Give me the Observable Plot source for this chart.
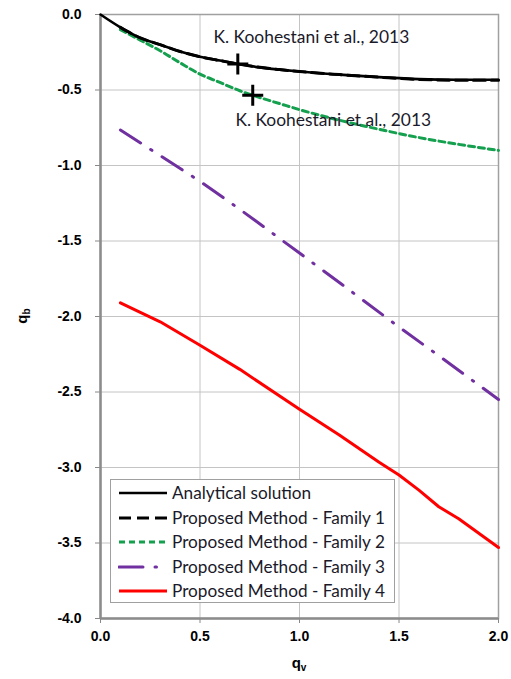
<!DOCTYPE html>
<html>
<head>
<meta charset="utf-8">
<script src="https://cdn.jsdelivr.net/npm/d3@7"></script>
<script src="https://cdn.jsdelivr.net/npm/@observablehq/plot@0.6"></script>
<style>
  html, body { margin: 0; padding: 0; background: #fff; }
  #wrap { position: relative; width: 511px; height: 679px; }
  #legend {
    position: absolute; left: 110px; top: 479px; width: 285px; height: 124px;
    background: #fff; border: 1.5px solid #a0a0a0; box-sizing: border-box;
    font-family: Lato, "Open Sans", sans-serif; font-size: 17.2px; color: #1a1a2a;
    padding-top: 1px;
  }
  .row { display: flex; align-items: center; height: 24.5px; line-height: 24.5px; white-space: nowrap; }
  .row svg { margin-left: 7px; margin-right: 4px; flex: none; }
</style>
</head>
<body>
<div id="wrap"></div>
<script>
// ---- data ----
const seriesNames = ["Analytical solution", "Proposed Method - Family 1", "Proposed Method - Family 2", "Proposed Method - Family 3", "Proposed Method - Family 4"];

const analyticalX = [0, 0.1, 0.2, 0.3, 0.4, 0.5, 0.6, 0.7, 0.8, 0.9, 1.0, 1.2, 1.4, 1.6, 1.8, 2.0];
const analyticalY = [0, -0.085, -0.155, -0.20, -0.245, -0.28, -0.305, -0.33, -0.35, -0.365, -0.378, -0.398, -0.415, -0.428, -0.432, -0.432];

const family1X = [0.1, 0.2, 0.3, 0.4, 0.5, 0.6, 0.7, 0.8, 0.9, 1.0, 1.2, 1.4, 1.6, 1.8, 2.0];
const family1Y = [-0.085, -0.155, -0.20, -0.245, -0.28, -0.305, -0.33, -0.35, -0.365, -0.378, -0.398, -0.415, -0.43, -0.435, -0.435];

const family2X = [0.1, 0.2, 0.3, 0.4, 0.5, 0.6, 0.7, 0.8, 0.9, 1.0, 1.2, 1.4, 1.6, 1.8, 2.0];
const family2Y = [-0.10, -0.17, -0.24, -0.32, -0.395, -0.45, -0.505, -0.55, -0.59, -0.63, -0.70, -0.76, -0.815, -0.86, -0.90];

const family3X = [0.1, 0.3, 0.5, 0.7, 1.0, 1.2, 1.5, 1.7, 2.0];
const family3Y = [-0.765, -0.935, -1.105, -1.29, -1.58, -1.775, -2.07, -2.26, -2.55];

const family4X = [0.1, 0.3, 0.5, 0.7, 1.0, 1.2, 1.4, 1.5, 1.6, 1.7, 1.8, 2.0];
const family4Y = [-1.91, -2.035, -2.19, -2.35, -2.615, -2.785, -2.965, -3.05, -3.15, -3.26, -3.34, -3.53];

const refX = [0.69, 0.765];
const refY = [-0.327, -0.535];
const refLabel = "K. Koohestani et al., 2013";
const refLabelX = [0.568, 0.678];
const refLabelY = [-0.152, -0.70];

const xTicks = [0, 0.5, 1.0, 1.5, 2.0];
const yTicks = [0, -0.5, -1.0, -1.5, -2.0, -2.5, -3.0, -3.5, -4.0];

// ---- build tables ----
const toRows = (xs, ys) => xs.map((x, i) => ({x, y: ys[i]}));
const analytical = toRows(analyticalX, analyticalY);
const fam1 = toRows(family1X, family1Y);
const fam2 = toRows(family2X, family2Y);
const fam3 = toRows(family3X, family3Y);
const fam4 = toRows(family4X, family4Y);
const refs = toRows(refX, refY);
const refLabels = toRows(refLabelX, refLabelY);

const plusSymbol = {
  draw(ctx, size) {
    const r = Math.sqrt(size / Math.PI);
    ctx.moveTo(-r, 0); ctx.lineTo(r, 0);
    ctx.moveTo(0, -r); ctx.lineTo(0, r);
  }
};

const styles = {
  analytical: {stroke: "#000", strokeWidth: 2.6},
  fam1: {stroke: "#000", strokeWidth: 3, strokeDasharray: "12,6"},
  fam2: {stroke: "#14a04e", strokeWidth: 3, strokeDasharray: "6,4"},
  fam3: {stroke: "#7030a0", strokeWidth: 3, strokeDasharray: "24,12,1.5,12", strokeLinecap: "round"},
  fam4: {stroke: "#ff0000", strokeWidth: 3}
};

const chart = Plot.plot({
  width: 511,
  height: 679,
  marginLeft: 100,
  marginRight: 13,
  marginTop: 14,
  marginBottom: 61,
  style: {fontFamily: "'Liberation Sans', Arial, sans-serif", fontSize: "14px", fontWeight: "bold", color: "#000", background: "#fff"},
  x: {domain: [0, 2]},
  y: {domain: [-4, 0]},
  marks: [
    Plot.gridX(xTicks, {stroke: "#c4c4c4", strokeOpacity: 1, strokeWidth: 1}),
    Plot.gridY(yTicks, {stroke: "#c4c4c4", strokeOpacity: 1, strokeWidth: 1}),
    Plot.frame({stroke: "#a0a0a0", strokeWidth: 1.5}),
    Plot.axisX(xTicks, {tickSize: 5, tickPadding: 8, tickFormat: d => d.toFixed(1), label: null, stroke: "#888"}),
    Plot.axisY(yTicks, {tickSize: 5, tickPadding: 14, tickFormat: d => d.toFixed(1), label: null, stroke: "#888"}),
    Plot.ruleX([0], {stroke: "#8c8c8c", strokeWidth: 2.5}),
    Plot.ruleY([-4], {stroke: "#8c8c8c", strokeWidth: 2.5}),
    Plot.line(fam4, {x: "x", y: "y", ...styles.fam4}),
    Plot.line(fam3, {x: "x", y: "y", ...styles.fam3}),
    Plot.line(fam2, {x: "x", y: "y", ...styles.fam2, curve: "monotone-x"}),
    Plot.line(analytical, {x: "x", y: "y", ...styles.analytical, curve: "monotone-x"}),
    Plot.line(fam1, {x: "x", y: "y", ...styles.fam1, curve: "monotone-x"}),
    Plot.dot(refs, {x: "x", y: "y", symbol: plusSymbol, r: 10.5, stroke: "#000", strokeWidth: 3, fill: "none"}),
    Plot.text(refLabels, {x: "x", y: "y", text: () => refLabel, textAnchor: "start", fontFamily: "Lato, 'Open Sans', sans-serif", fontSize: 17.4, fontWeight: "normal", fill: "#1a1a2a"})
  ]
});

// axis tick marks gray, labels black
d3.select(chart).selectAll('[aria-label="x-axis tick"] path, [aria-label="y-axis tick"] path').attr("stroke", "#888");
d3.select(chart).selectAll('[aria-label="x-axis tick label"], [aria-label="y-axis tick label"]').attr("fill", "#000");

// axis titles with subscripts
const svg = d3.select(chart);
const xt = svg.append("text")
  .attr("x", 299).attr("y", 668)
  .attr("text-anchor", "middle")
  .attr("font-family", "'Liberation Sans', Arial, sans-serif")
  .attr("font-weight", "bold").attr("font-size", 15).attr("fill", "#000");
xt.append("tspan").text("q");
xt.append("tspan").attr("font-size", 10).attr("dy", 3).text("v");

const yt = svg.append("text")
  .attr("transform", "translate(27,316) rotate(-90)")
  .attr("text-anchor", "middle")
  .attr("font-family", "'Liberation Sans', Arial, sans-serif")
  .attr("font-weight", "bold").attr("font-size", 15).attr("fill", "#000");
yt.append("tspan").text("q");
yt.append("tspan").attr("font-size", 10).attr("dy", 3).text("b");

const wrap = document.getElementById("wrap");
wrap.appendChild(chart);

// legend
const legend = document.createElement("div");
legend.id = "legend";
const legendStyles = [styles.analytical, styles.fam1, styles.fam2, styles.fam3, styles.fam4];
seriesNames.forEach((name, i) => {
  const row = document.createElement("div");
  row.className = "row";
  const s = legendStyles[i];
  const sw = d3.create("svg").attr("width", 50).attr("height", 10);
  sw.append("line").attr("x1", 1).attr("x2", 49).attr("y1", 5).attr("y2", 5)
    .attr("stroke", s.stroke).attr("stroke-width", s.strokeWidth)
    .attr("stroke-dasharray", s.strokeDasharray || null)
    .attr("stroke-linecap", s.strokeLinecap || null);
  row.appendChild(sw.node());
  const t = document.createElement("span");
  t.textContent = name;
  row.appendChild(t);
  legend.appendChild(row);
});
wrap.appendChild(legend);
</script>
</body>
</html>
